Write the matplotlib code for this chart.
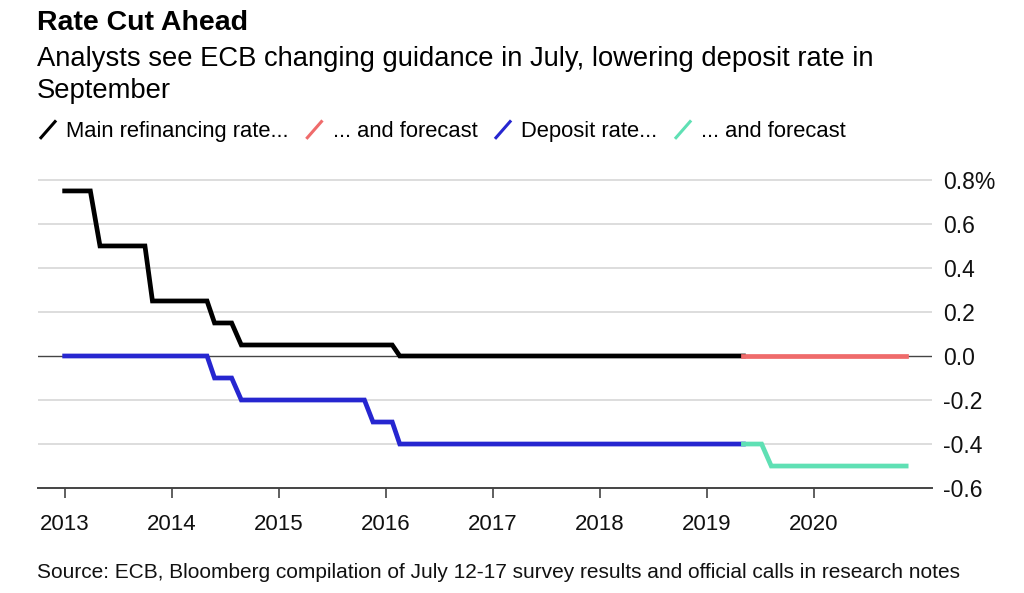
import matplotlib.pyplot as plt
from matplotlib.legend_handler import HandlerBase
from matplotlib.lines import Line2D

# ---------- data ----------
# breakpoints (decimal year, rate %), lines drawn straight between them
refi_x = [2013.0, 2013.24, 2013.33, 2013.75, 2013.82, 2014.33, 2014.4,
          2014.56, 2014.65, 2016.06, 2016.13, 2019.34]
refi_y = [0.75, 0.75, 0.50, 0.50, 0.25, 0.25, 0.15, 0.15, 0.05, 0.05, 0.0, 0.0]

refi_fc_x = [2019.34, 2020.86]
refi_fc_y = [0.0, 0.0]

depo_x = [2013.0, 2014.33, 2014.4, 2014.56, 2014.65, 2015.8, 2015.88,
          2016.06, 2016.13, 2019.34]
depo_y = [0.0, 0.0, -0.10, -0.10, -0.20, -0.20, -0.30, -0.30, -0.40, -0.40]

depo_fc_x = [2019.34, 2019.51, 2019.6, 2020.86]
depo_fc_y = [-0.40, -0.40, -0.50, -0.50]

years = [2013, 2014, 2015, 2016, 2017, 2018, 2019, 2020]
yticks = [0.8, 0.6, 0.4, 0.2, 0.0, -0.2, -0.4, -0.6]
ylabels = ['0.8%', '0.6', '0.4', '0.2', '0.0', '-0.2', '-0.4', '-0.6']

labels = ['Main refinancing rate...', '... and forecast', 'Deposit rate...', '... and forecast']
colors = ['#000000', '#ef6b6b', '#2626d0', '#5fe0b4']


# ---------- diagonal legend marker ----------
class DiagHandler(HandlerBase):
    def create_artists(self, legend, orig_handle, xdescent, ydescent,
                       width, height, fontsize, trans):
        x0 = -xdescent
        y0 = -ydescent - height * 0.15
        ln = Line2D([x0, x0 + height * 1.05], [y0, y0 + height * 1.2],
                    color=orig_handle.get_color(), lw=2.2, solid_capstyle='butt')
        ln.set_transform(trans)
        return [ln]


plt.rcParams['font.family'] = ['Liberation Sans', 'DejaVu Sans']

fig = plt.figure(figsize=(10.24, 5.93), dpi=100)
ax = fig.add_axes([0.037, 0.177, 0.873, 0.527])

lw = 3.4
ax.plot(refi_x, refi_y, color=colors[0], lw=lw, solid_joinstyle='miter', zorder=3)
ax.plot(refi_fc_x, refi_fc_y, color=colors[1], lw=lw, zorder=3)
ax.plot(depo_x, depo_y, color=colors[2], lw=lw, solid_joinstyle='miter', zorder=3)
ax.plot(depo_fc_x, depo_fc_y, color=colors[3], lw=lw, solid_joinstyle='miter', zorder=3)

ax.set_xlim(2012.75, 2021.1)
ax.set_ylim(-0.6, 0.82)

for v in yticks:
    if v == 0.0:
        ax.axhline(v, color='#444444', lw=1.0, zorder=2)
    elif v == -0.6:
        continue
    else:
        ax.axhline(v, color='#dddddd', lw=1.4, zorder=1)

for s in ['top', 'left', 'right']:
    ax.spines[s].set_visible(False)
ax.spines['bottom'].set_color('#444444')
ax.spines['bottom'].set_linewidth(1.4)

ax.set_xticks(years)
ax.set_xticklabels([str(y) for y in years])
ax.tick_params(axis='x', length=7, width=1.2, color='#444444', pad=12,
               labelsize=16, labelcolor='#111111')

ax.yaxis.tick_right()
ax.set_yticks(yticks)
ax.set_yticklabels(ylabels)
ax.tick_params(axis='y', length=0, pad=8, labelsize=16.5, labelcolor='#111111')

fig.text(0.036, 0.961, 'Rate Cut Ahead', fontsize=20.5, fontweight='bold', va='center')
fig.text(0.036, 0.873, 'Analysts see ECB changing guidance in July, lowering deposit rate in\nSeptember',
         fontsize=19.7, va='center', linespacing=1.3)

handles = [Line2D([], [], color=c) for c in colors]
fig.legend(handles, labels, loc='center left', bbox_to_anchor=(0.039, 0.779),
           ncol=4, frameon=False, fontsize=15.8, handler_map={Line2D: DiagHandler()},
           handlelength=0.75, handletextpad=0.45, columnspacing=0.8,
           borderpad=0, borderaxespad=0)

fig.text(0.036, 0.035, 'Source: ECB, Bloomberg compilation of July 12-17 survey results and official calls in research notes',
         fontsize=15, va='center', color='#111111')

fig.savefig('out.png', dpi=100)
